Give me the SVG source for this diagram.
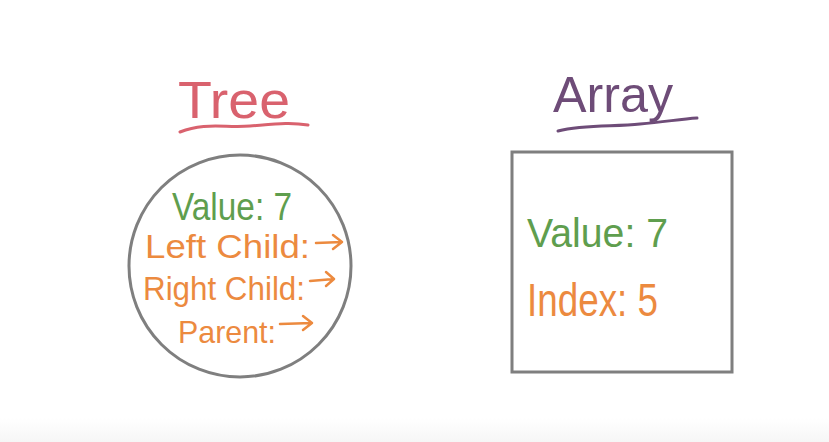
<svg xmlns="http://www.w3.org/2000/svg" width="829" height="442" viewBox="0 0 829 442">
<defs>
<linearGradient id="fade" x1="0" y1="0" x2="0" y2="1">
<stop offset="0" stop-color="#ffffff"/>
<stop offset="1" stop-color="#f6f6f6"/>
</linearGradient>
</defs>
<style>
text{font-family:"Liberation Sans","DejaVu Sans",sans-serif;font-weight:normal}
.red{fill:#d9626e}
.pur{fill:#6e4c78}
.grn{fill:#5f9e4e}
.org{fill:#ec8a3f}
.shape{fill:none;stroke:#7f7f7f;stroke-width:3}
.arr{fill:none;stroke:#ec8a3f;stroke-width:2.5;stroke-linecap:round;stroke-linejoin:round}
</style>
<rect width="829" height="442" fill="#ffffff"/>
<rect x="0" y="418" width="829" height="24" fill="url(#fade)"/>
<g id="tree">
<text class="red" x="178" y="118" font-size="52" textLength="112" lengthAdjust="spacingAndGlyphs">Tree</text>
<path d="M180 132 C205 122 225 128 250 126 C275 124 290 122 308 125" fill="none" stroke="#d9626e" stroke-width="3" stroke-linecap="round"/>
<circle class="shape" cx="240" cy="266" r="111"/>
<text class="grn" x="172" y="220" font-size="38" textLength="120" lengthAdjust="spacingAndGlyphs">Value: 7</text>
<text class="org" x="145" y="258" font-size="33" textLength="165" lengthAdjust="spacingAndGlyphs">Left Child:</text>
<path class="arr" d="M316 243 L342 242 M333 235 L342 242 L333 249"/>
<text class="org" x="143" y="300" font-size="33" textLength="162" lengthAdjust="spacingAndGlyphs">Right Child:</text>
<path class="arr" d="M310 281 L334 279 M326 272 L334 279 L326 286"/>
<text class="org" x="178" y="343" font-size="32" textLength="98" lengthAdjust="spacingAndGlyphs">Parent:</text>
<path class="arr" d="M280 324 L312 323 M303 316 L312 323 L303 330"/>
</g>
<g id="array">
<text class="pur" x="553" y="112" font-size="50" textLength="120" lengthAdjust="spacingAndGlyphs">Array</text>
<path d="M558 131 C585 124 615 127 640 124 C665 122 680 119 697 118" fill="none" stroke="#6e4c78" stroke-width="3" stroke-linecap="round"/>
<rect class="shape" x="512" y="152" width="220" height="220"/>
<text class="grn" x="527" y="247" font-size="40" textLength="141" lengthAdjust="spacingAndGlyphs">Value:  7</text>
<text class="org" x="527" y="316" font-size="46" textLength="131" lengthAdjust="spacingAndGlyphs">Index: 5</text>
</g>
<g id="connectors"/>
</svg>
